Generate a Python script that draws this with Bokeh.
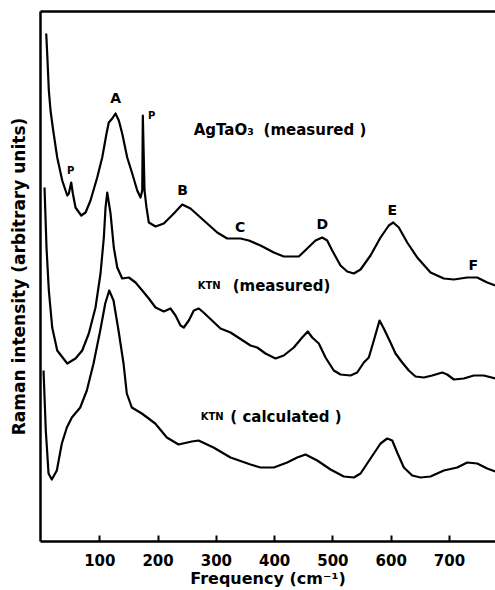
from bokeh.plotting import figure
from bokeh.models import LinearAxis, FixedTicker, Range1d
from bokeh.core.properties import value
from bokeh.embed import file_html
from bokeh.resources import INLINE

# AgTaO3 (measured)
ag_freq = [8, 9.7, 12.5, 15.4, 20.0, 26.9, 35.5, 44.1, 46.8, 50.9, 53.7, 58.3, 68.1, 75.5, 84.0,
           95.5, 104.1, 111.5, 115.4, 121.3, 126.9, 132.6, 138.4, 147.0, 155.6, 164.2, 169.8,
           172.8, 173.8, 176.7, 180.1, 184.1, 195.6, 209.8, 227.0, 241.4, 255.6, 278.5, 301.5,
           318.6, 341.4, 355.7, 375.8, 398.6, 415.7, 441.5, 455.9, 470.1, 481.6, 490.2, 498.8,
           513.0, 524.5, 535.9, 547.4, 564.5, 581.7, 595.9, 603.5, 613.1, 627.5, 644.7, 667.5,
           690.3, 707.5, 730.5, 747.6, 764.8, 779.0]
ag_int = [510, 490, 453, 433, 413, 386, 363, 348, 350, 361, 350, 336, 328, 331, 343,
          366, 386, 410, 421, 425, 430, 423, 410, 386, 370, 353, 346,
          353, 428, 353, 336, 321, 317, 320, 330, 339, 335, 323, 311,
          305, 305, 303, 298, 291, 287, 287, 295, 303, 306, 303, 293,
          278, 272, 270, 274, 288, 306, 318, 321, 316, 301, 286, 271,
          265, 264, 266, 266, 261, 258]

# KTN (measured)
ktn_m_freq = [5.1, 8.5, 12.5, 18.3, 26.9, 44.1, 58.3, 69.8, 81.1, 92.6, 101.2, 106.9, 109.8,
              112.7, 118.4, 124.0, 129.9, 138.4, 149.8, 161.3, 172.8, 184.1, 195.6, 209.8,
              221.3, 229.9, 238.5, 244.1, 252.7, 261.3, 269.9, 278.0, 307.1, 324.3, 358.6,
              370.1, 384.3, 401.5, 415.7, 432.9, 447.3, 456.9, 464.5, 475.8, 487.3, 501.5,
              513.0, 530.2, 541.7, 553.0, 561.6, 570.2, 580.0, 587.3, 598.8, 607.4, 618.9,
              630.2, 641.7, 656.0, 670.4, 687.6, 696.1, 707.5, 724.6, 741.8, 759.0, 779.0]
ktn_m_int = [356, 296, 253, 216, 193, 180, 185, 193, 210, 236, 270, 306, 336,
             351, 330, 296, 276, 265, 266, 261, 253, 245, 236, 232,
             235, 228, 218, 216, 223, 233, 235, 231, 215, 211, 198,
             196, 190, 185, 188, 196, 206, 212, 206, 200, 186, 173,
             169, 168, 171, 181, 186, 203, 223, 215, 201, 190, 181,
             173, 167, 166, 168, 171, 169, 164, 165, 168, 168, 165]

# KTN (calculated)
ktn_c_freq = [3.4, 7.3, 12.0, 17.6, 26.2, 34.8, 43.4, 52.0, 66.4, 77.7, 89.2, 100.7, 109.3,
              116.1, 123.5, 132.1, 140.7, 146.3, 154.9, 172.1, 195.1, 215.0, 235.1, 257.9,
              269.4, 295.1, 324.3, 358.6, 375.8, 398.6, 421.6, 438.7, 453.0, 473.1, 495.9,
              518.7, 535.9, 547.4, 564.5, 581.7, 593.2, 601.8, 610.3, 621.7, 636.1, 650.3,
              667.5, 690.3, 713.3, 730.5, 747.6, 764.8, 779.0]
ktn_c_int = [173, 113, 70, 64, 73, 100, 116, 126, 136, 153, 180, 213, 240,
             253, 243, 213, 180, 150, 136, 130, 120, 106, 99, 102,
             103, 96, 86, 79, 76, 76, 81, 86, 89, 83, 74,
             67, 66, 70, 85, 100, 105, 103, 91, 76, 68, 66,
             67, 73, 76, 81, 80, 75, 72]

x_ticks = [100, 200, 300, 400, 500, 600, 700]

# peak labels
peak_text = ["A", "B", "C", "D", "E", "F"]
peak_freq = [127, 242, 341, 482, 602, 741]
peak_int = [446, 354, 317, 320, 334, 279]

p_text = ["P", "P"]
p_freq = [50, 189]
p_int = [373, 428]

curve_text = ["AgTaO\u2083", "(measured )", "(measured)", "( calculated )"]
curve_freq = [261, 381, 328, 324]
curve_int = [414, 414, 258, 127]

ktn_text = ["KTN", "KTN"]
ktn_freq = [268, 273]
ktn_int = [258, 127]

FONT = "DejaVu Sans"

p = figure(width=495, height=590, output_backend="svg", toolbar_location=None,
           x_range=Range1d(-1.8, 779), y_range=Range1d(2, 532),
           min_border_left=40, min_border_right=0, min_border_top=11, min_border_bottom=49,
           background_fill_color="white", border_fill_color="white")
p.outline_line_color = None
p.grid.visible = False

for xs, ys in [(ag_freq, ag_int), (ktn_m_freq, ktn_m_int), (ktn_c_freq, ktn_c_int)]:
    p.line(xs, ys, line_color="black", line_width=2.2, line_join="round")

p.text(peak_freq, peak_int, text=peak_text, text_font=value(FONT), text_font_style="bold",
       text_font_size="14px", text_align="center", text_baseline="middle", text_color="black")
p.text(p_freq, p_int, text=p_text, text_font=value(FONT), text_font_style="bold",
       text_font_size="10px", text_align="center", text_baseline="middle", text_color="black")
p.text(curve_freq, curve_int, text=curve_text, text_font=value(FONT),
       text_font_style="bold", text_font_size="15px", text_align="left", text_baseline="middle",
       text_color="black")
p.text(ktn_freq, ktn_int, text=ktn_text, text_font=value(FONT),
       text_font_style="bold", text_font_size="10px", text_align="left", text_baseline="middle",
       text_color="black")

# bottom axis
xa = p.xaxis[0]
xa.ticker = FixedTicker(ticks=x_ticks)
xa.axis_line_width = 2.5
xa.major_tick_line_width = 2
xa.major_tick_in = 6
xa.major_tick_out = 0
xa.minor_tick_line_color = None
xa.major_label_standoff = 12
xa.major_label_text_font = FONT
xa.major_label_text_font_size = "15px"
xa.major_label_text_font_style = "bold"
xa.major_label_text_color = "black"
xa.axis_label = "Frequency (cm\u207b\u00b9)"
xa.axis_label_text_font = FONT
xa.axis_label_text_font_size = "16px"
xa.axis_label_text_font_style = "bold"
xa.axis_label_text_color = "black"
xa.axis_label_standoff = 0

# left axis
ya = p.yaxis[0]
ya.ticker = FixedTicker(ticks=[])
ya.axis_line_width = 2.5
ya.major_tick_out = 0
ya.major_tick_in = 0
ya.minor_tick_line_color = None
ya.major_label_text_font_size = "0px"
ya.axis_label = "Raman intensity (arbitrary units)"
ya.axis_label_text_font = FONT
ya.axis_label_text_font_size = "17px"
ya.axis_label_text_font_style = "bold"
ya.axis_label_text_color = "black"
ya.axis_label_standoff = 12

# top border line
top = LinearAxis(ticker=FixedTicker(ticks=[]), axis_line_width=2.5, major_tick_out=0,
                 major_tick_in=0, minor_tick_line_color=None, major_label_text_font_size="0px",
                 major_label_standoff=0)
p.add_layout(top, "above")

open("out.html", "w").write(file_html(p, INLINE))
